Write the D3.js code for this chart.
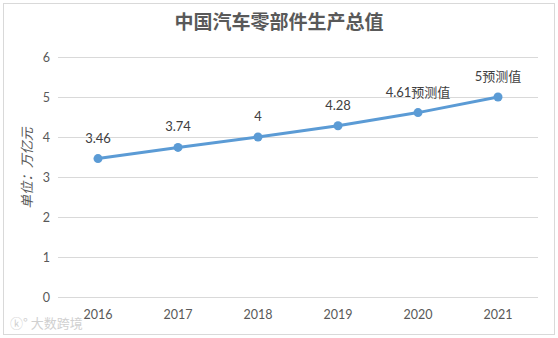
<!DOCTYPE html>
<html>
<head>
<meta charset="utf-8">
<script src="https://cdn.jsdelivr.net/npm/d3@7/dist/d3.min.js"></script>
<style>
  html, body { margin: 0; padding: 0; background: #fff; }
  svg { display: block; }
</style>
</head>
<body>
<script>
// Output value of China's auto parts industry (unit: trillion yuan)
const years = ["2016", "2017", "2018", "2019", "2020", "2021"];
const values = [3.46, 3.74, 4, 4.28, 4.61, 5];
const labelSuffix = ["", "", "", "", "预测值", "预测值"];
const yTicks = [0, 1, 2, 3, 4, 5, 6];

const W = 558, H = 338;
const numFont = "Lato, 'Noto Sans', sans-serif";
const cjkFont = "'Noto Sans CJK SC', sans-serif";

const svg = d3.select("body").append("svg").attr("width", W).attr("height", H);

// outer frame
svg.append("rect").attr("x", 3.5).attr("y", 3.5).attr("width", 551).attr("height", 331)
  .attr("fill", "#fff").attr("stroke", "#d9d9d9").attr("stroke-width", 1);

const x = d3.scaleBand().domain(years).range([58, 538]);
const y = d3.scaleLinear().domain([0, 6]).range([297, 57]);

// title
svg.append("text").attr("x", 279).attr("y", 29).attr("text-anchor", "middle")
  .attr("font-family", cjkFont).attr("font-weight", 700).attr("font-size", 19)
  .attr("fill", "#595959").text("中国汽车零部件生产总值");

// horizontal gridlines and y tick labels
const yAxis = svg.append("g").attr("transform", "translate(58,0)")
  .call(d3.axisLeft(y).tickValues(yTicks).tickSize(-480).tickFormat(d3.format("d")).tickPadding(8));
yAxis.select(".domain").remove();
yAxis.selectAll(".tick line").attr("stroke", "#d9d9d9").attr("stroke-width", 1);
yAxis.selectAll(".tick text").attr("font-family", numFont).attr("font-size", 12.5)
  .attr("fill", "#595959");

// x axis labels
const xAxis = svg.append("g").attr("transform", "translate(0,297)")
  .call(d3.axisBottom(x).tickSize(0).tickPadding(13));
xAxis.select(".domain").remove();
xAxis.selectAll(".tick text").attr("font-family", numFont).attr("font-size", 12.5)
  .attr("fill", "#595959");

// y axis title
svg.append("text")
  .attr("transform", "translate(32,168) rotate(-90)")
  .attr("text-anchor", "middle")
  .attr("font-family", cjkFont).attr("font-size", 13.5).attr("font-style", "italic")
  .attr("fill", "#595959").text("单位：万亿元");

const cx = d => x(d) + x.bandwidth() / 2;

// line
const line = d3.line().x((d, i) => cx(years[i])).y(d => y(d));
svg.append("path").datum(values).attr("d", line)
  .attr("fill", "none").attr("stroke", "#5b9bd5").attr("stroke-width", 3)
  .attr("stroke-linejoin", "round");

// markers
svg.selectAll("circle.pt").data(values).join("circle").attr("class", "pt")
  .attr("cx", (d, i) => cx(years[i])).attr("cy", d => y(d)).attr("r", 4.5)
  .attr("fill", "#5b9bd5");

// data labels
svg.selectAll("text.lbl").data(values).join("text").attr("class", "lbl")
  .attr("x", (d, i) => cx(years[i])).attr("y", d => y(d) - 16)
  .attr("text-anchor", "middle").attr("font-size", 13).attr("fill", "#404040")
  .each(function (d, i) {
    const t = d3.select(this);
    t.append("tspan").attr("font-family", numFont).text(String(d));
    if (labelSuffix[i]) t.append("tspan").attr("font-family", cjkFont).text(labelSuffix[i]);
  });

// watermark
svg.append("text").attr("x", 10).attr("y", 328)
  .attr("font-family", cjkFont).attr("font-size", 13).attr("fill", "#d0d0d0")
  .text("ⓚ° 大数跨境");
</script>
</body>
</html>
